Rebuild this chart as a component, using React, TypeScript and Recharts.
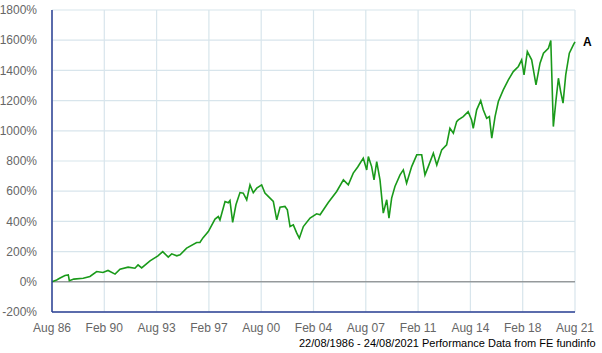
import React from "react";
import {
  LineChart,
  Line,
  XAxis,
  YAxis,
  CartesianGrid,
  ReferenceLine,
} from "recharts";

// decimal years and cumulative performance (%)
const years = [
  1986.64, 1986.95, 1987.18, 1987.51, 1987.73, 1987.8, 1988.1, 1988.73, 1989.18, 1989.63,
  1990.05, 1990.39, 1990.86, 1991.19, 1991.73, 1992.19, 1992.4, 1992.64, 1993.2, 1993.73,
  1994.05, 1994.42, 1994.65, 1994.99, 1995.21, 1995.65, 1996.32, 1996.54, 1996.74, 1997.1,
  1997.55, 1997.77, 1997.88, 1998.22, 1998.44, 1998.55, 1998.73, 1998.95, 1999.22, 1999.44,
  1999.67, 1999.89, 2000.11, 2000.34, 2000.67, 2000.89, 2001.23, 2001.45, 2001.68, 2001.9,
  2002.23, 2002.39, 2002.57, 2002.79, 2003.02, 2003.19, 2003.46, 2003.91, 2004.35, 2004.58,
  2005.13, 2005.69, 2006.14, 2006.47, 2006.8, 2007.1, 2007.47, 2007.7, 2007.81, 2008.03,
  2008.19, 2008.37, 2008.59, 2008.81, 2009.04, 2009.19, 2009.37, 2009.59, 2009.93, 2010.15,
  2010.37, 2010.71, 2011.05, 2011.38, 2011.6, 2011.82, 2012.16, 2012.39, 2012.72, 2013.05,
  2013.27, 2013.5, 2013.72, 2013.83, 2014.16, 2014.49, 2014.72, 2014.83, 2015.06, 2015.33,
  2015.5, 2015.73, 2015.91, 2016.07, 2016.29, 2016.51, 2016.84, 2017.18, 2017.51, 2017.85,
  2018.07, 2018.23, 2018.45, 2018.74, 2019.03, 2019.3, 2019.53, 2019.86, 2020.02, 2020.19,
  2020.37, 2020.53, 2020.68, 2020.84, 2021.02, 2021.26, 2021.53, 2021.64,
];

const fundA = [
  0, 12, 25, 42, 46, 7, 18, 24, 35, 68,
  62, 75, 51, 84, 97, 90, 112, 92, 139, 172,
  200, 163, 185, 172, 179, 223, 260, 260, 291, 333,
  415, 432, 410, 532, 523, 538, 393, 510, 591, 587,
  543, 642, 590, 620, 642, 587, 554, 532, 410, 494,
  499, 477, 366, 377, 322, 289, 366, 422, 450, 444,
  525, 598, 675, 642, 720, 760, 819, 741, 829, 763,
  675, 796, 675, 455, 543, 422, 554, 631, 708, 741,
  653, 763, 841, 841, 708, 763, 852, 774, 874, 907,
  1017, 984, 1061, 1072, 1094, 1127, 1072, 1017, 1139, 1200,
  1139, 1083, 1094, 951, 1094, 1194, 1271, 1337, 1392, 1426,
  1470, 1370, 1525, 1470, 1304, 1448, 1514, 1547, 1598, 1028,
  1205, 1348, 1260, 1183, 1370, 1514, 1569, 1589,
];

const xTicks = [1986.64, 1990.14, 1993.64, 1997.14, 2000.64, 2004.14, 2007.64, 2011.14, 2014.64, 2018.14, 2021.64];
const xTickLabels = ["Aug 86", "Feb 90", "Aug 93", "Feb 97", "Aug 00", "Feb 04", "Aug 07", "Feb 11", "Aug 14", "Feb 18", "Aug 21"];
const yTicks = [-200, 0, 200, 400, 600, 800, 1000, 1200, 1400, 1600, 1800];

const seriesName = "A";
const footer = "22/08/1986 - 24/08/2021 Performance Data from FE fundinfo";

const data = years.map((t, i) => ({ t, a: fundA[i] }));

const font = "'Liberation Sans', Arial, sans-serif";

function EndLabel(props: any) {
  const { x, y, index } = props;
  if (index !== data.length - 1) return null;
  return (
    <text x={x + 8} y={y + 4} fontSize={12} fontWeight="bold" fill="#000" fontFamily={font}>
      {seriesName}
    </text>
  );
}

export default function App() {
  return (
    <div style={{ position: "absolute", left: 0, top: 0, width: 602, height: 353, background: "#fff" }}>
      <LineChart width={602} height={353} data={data} margin={{ top: 10, right: 27, bottom: 21, left: 0 }}>
        <CartesianGrid stroke="#d8e5ec" strokeWidth={1.2} />
        <XAxis
          dataKey="t"
          type="number"
          domain={[1986.64, 2021.64]}
          ticks={xTicks}
          tickFormatter={(v: number) => xTickLabels[xTicks.indexOf(v)] ?? ""}
          tickLine={false}
          axisLine={{ stroke: "#2b3f93", strokeWidth: 1.5 }}
          tick={{ fill: "#666", fontSize: 12, fontFamily: font }}
          tickMargin={5}
          height={20}
          interval={0}
        />
        <YAxis
          type="number"
          domain={[-200, 1800]}
          ticks={yTicks}
          tickFormatter={(v: number) => `${v}%`}
          tickLine={false}
          axisLine={{ stroke: "#2b3f93", strokeWidth: 1.5 }}
          tick={{ fill: "#666", fontSize: 12, fontFamily: font }}
          tickMargin={9}
          width={52}
          interval={0}
        />
        <ReferenceLine y={0} stroke="#777" strokeWidth={1} />
        <Line
          dataKey="a"
          type="linear"
          stroke="#1a9a1a"
          strokeWidth={1.6}
          dot={false}
          isAnimationActive={false}
          label={<EndLabel />}
        />
      </LineChart>
      <div
        style={{
          position: "absolute",
          left: 299,
          top: 337,
          fontFamily: font,
          fontSize: 11,
          lineHeight: "12px",
          color: "#000",
          whiteSpace: "nowrap",
        }}
      >
        {footer}
      </div>
    </div>
  );
}
